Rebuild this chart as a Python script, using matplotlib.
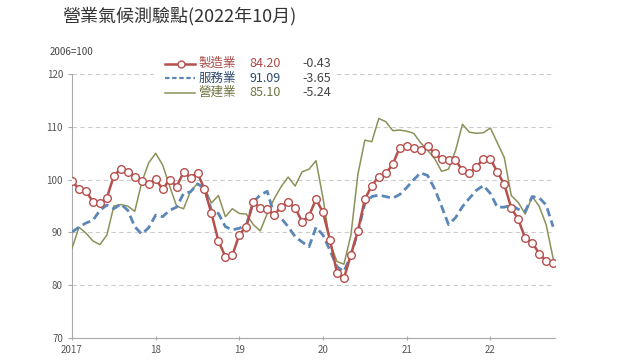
import numpy as np
import matplotlib
matplotlib.use('Agg')
import matplotlib.pyplot as plt
from matplotlib.lines import Line2D
from matplotlib.patches import Rectangle

plt.rcParams['font.family'] = ['Noto Sans CJK TC', 'DejaVu Sans']

# monthly index, 2017-01 .. 2022-10
year_labels = ['2017', '18', '19', '20', '21', '22']

mfg = [99.8, 98.2, 97.9, 95.8, 95.5, 96.6, 100.7, 102.1, 101.5, 100.5, 99.8, 99.1,
       100.1, 98.2, 100.0, 98.7, 101.4, 100.4, 101.3, 98.2, 93.6, 88.4, 85.4, 85.7,
       89.6, 91.1, 95.8, 94.6, 94.4, 93.3, 94.9, 95.7, 94.7, 92.0, 93.2, 96.3,
       93.8, 88.6, 82.4, 81.3, 85.8, 90.3, 96.3, 98.9, 100.6, 101.2, 102.9, 106.1,
       106.4, 106.1, 105.6, 106.4, 105.0, 103.9, 103.7, 103.7, 101.8, 101.2, 102.4, 104.0,
       103.9, 101.5, 99.1, 94.6, 92.5, 88.9, 88.1, 86.0, 84.6, 84.2]

svc = [90.1, 91.0, 91.8, 92.3, 94.2, 95.2, 94.5, 95.4, 94.2, 91.1, 89.7, 90.9,
       93.3, 93.0, 94.2, 94.8, 97.4, 97.7, 99.2, 98.4, 94.2, 93.6, 91.1, 90.5,
       90.8, 91.4, 95.8, 97.1, 97.8, 93.3, 92.7, 91.1, 89.2, 88.2, 87.3, 91.0,
       89.5, 86.6, 83.5, 82.6, 85.7, 90.1, 95.5, 96.8, 97.1, 96.8, 96.5, 97.2,
       98.5, 100.0, 101.3, 100.8, 98.3, 95.0, 91.5, 92.8, 94.9, 96.5, 98.0, 98.9,
       97.4, 94.8, 94.8, 95.2, 94.4, 94.0, 96.8, 96.6, 95.2, 91.09]

con = [87.0, 91.0, 89.9, 88.4, 87.7, 89.5, 95.0, 95.3, 95.0, 94.0, 99.5, 103.2,
       105.0, 102.8, 98.8, 95.0, 94.5, 97.8, 99.3, 98.5, 95.6, 97.0, 93.0, 94.5,
       93.6, 93.5, 91.5, 90.3, 93.6, 96.4, 98.7, 100.5, 98.8, 101.5, 102.0, 103.6,
       96.5, 88.0, 84.5, 84.0, 89.5, 101.0, 107.5, 107.2, 111.6, 111.0, 109.3, 109.4,
       109.2, 108.8, 107.0, 105.6, 104.0, 101.6, 102.0, 105.5, 110.5, 109.0, 108.8, 108.9,
       109.8, 107.0, 104.2, 97.0, 95.7, 93.5, 96.8, 95.0, 91.5, 85.1]

names = ['製造業', '服務業', '營建業']
latest = ['84.20', '91.09', '85.10']
change = ['-0.43', '-3.65', '-5.24']

c_mfg = '#b5504d'
c_svc = '#5b87b8'
c_con = '#8c9159'
txt_cols = ['#a84a47', '#2e4a6e', '#6f7340']

fig = plt.figure(figsize=(6.4, 3.6), dpi=100)
ax = fig.add_axes([0.1125, 0.061, 0.755, 0.733])

x = np.arange(len(mfg))
ax.plot(x, con, color=c_con, lw=1.1, zorder=3)
ax.plot(x, svc, color=c_svc, lw=2, ls=(0, (3, 1.6)), zorder=4)
ax.plot(x, mfg, color=c_mfg, lw=1.8, marker='o', ms=5.5, mfc='white',
        mec=c_mfg, mew=1, zorder=5)

ax.set_xlim(0, 69.3)
ax.set_ylim(70, 120)
ax.set_yticks([70, 80, 90, 100, 110, 120])
ax.set_xticks(np.arange(0, 72, 12))
ax.set_xticklabels(year_labels)
ax.grid(axis='y', color='#cccccc', ls=(0, (4, 3)), lw=0.8)
ax.set_axisbelow(True)
for s in ['top', 'right']:
    ax.spines[s].set_visible(False)
for s in ['left', 'bottom']:
    ax.spines[s].set_color('#aaaaaa')
ax.tick_params(axis='y', colors='#aaaaaa', labelcolor='#555555', labelsize=7, length=3)
ax.tick_params(axis='x', colors='#aaaaaa', labelcolor='#555555', labelsize=7,
               length=3, direction='inout')

fig.text(0.097, 0.955, '營業氣候測驗點(2022年10月)', fontsize=13, color='#333333',
         ha='left', va='center')
fig.text(0.078, 0.856, '2006=100', fontsize=7, color='#444444', ha='left', va='center')

# legend box
ax.add_patch(Rectangle((0.17, 0.89), 0.37, 0.21, transform=ax.transAxes,
                       facecolor='white', edgecolor='none', zorder=6, clip_on=False))
rows = [1.04, 0.985, 0.93]
styles = [dict(color=c_mfg, lw=1.8, marker='o', ms=5, mfc='white', mec=c_mfg, markevery=[1]),
          dict(color=c_svc, lw=1.6, ls=(0, (2, 1.2))),
          dict(color=c_con, lw=1.1)]
for i in range(3):
    yy = rows[i]
    ax.add_line(Line2D([0.192, 0.225, 0.255], [yy, yy, yy], transform=ax.transAxes,
                       clip_on=False, zorder=7, **styles[i]))
    ax.text(0.262, yy, names[i], transform=ax.transAxes, fontsize=9,
            color=txt_cols[i], va='center', ha='left', zorder=7)
    ax.text(0.367, yy, latest[i], transform=ax.transAxes, fontsize=9,
            color=txt_cols[i], va='center', ha='left', zorder=7)
    ax.text(0.476, yy, change[i], transform=ax.transAxes, fontsize=9,
            color='#444444', va='center', ha='left', zorder=7)

fig.savefig('out.png', dpi=100)
